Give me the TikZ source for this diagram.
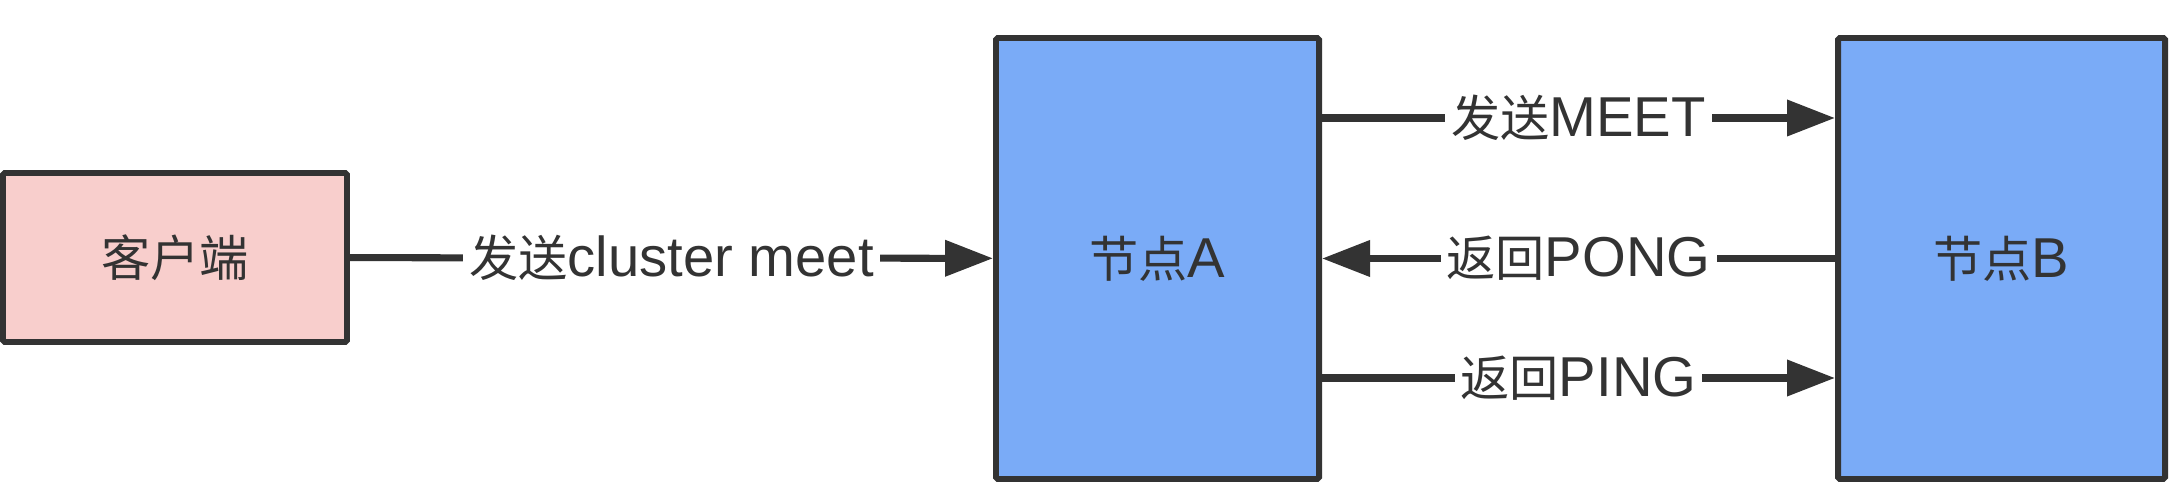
\documentclass[tikz,border=0pt]{standalone}
\usepackage{fontspec}
\setmainfont{Liberation Sans}
\newfontfamily\cjk[Scale=0.875]{Noto Sans CJK SC}
\usetikzlibrary{arrows.meta}
\definecolor{linegray}{HTML}{333333}
\definecolor{clientpink}{HTML}{F8CECC}
\definecolor{nodeblue}{HTML}{7AABF7}
\begin{document}
\begin{tikzpicture}[
    box/.style={draw=linegray, line width=3.4pt, rounded corners=1pt,
      text=linegray, font=\fontsize{32}{36}\selectfont},
    msg/.style={draw=linegray, line width=4pt,
      -{Triangle[length=0.96cm,width=0.7cm]}},
    msglabel/.style={fill=white, text=linegray, inner xsep=0.12cm,
      inner ysep=0.1cm, font=\fontsize{32}{36}\selectfont}]
  \useasboundingbox (0,0) rectangle (43.44,9.96);
  \node[box, fill=clientpink, minimum width=6.88cm, minimum height=3.38cm]
    (client) at (3.5,4.81) {{\cjk 客户端}};
  \node[box, fill=nodeblue, minimum width=6.46cm, minimum height=8.82cm]
    (nodeA) at (23.15,4.79) {{\cjk 节点}A};
  \node[box, fill=nodeblue, minimum width=6.54cm, minimum height=8.82cm]
    (nodeB) at (40.03,4.79) {{\cjk 节点}B};
  \draw[msg] (client) -- node[msglabel] {{\cjk 发送}cluster meet} (nodeA);
  \draw[msg] ([yshift=2.81cm]nodeA.east) -- node[msglabel] {{\cjk 发送}MEET}
    ([yshift=2.81cm]nodeB.west);
  \draw[msg] (nodeB) -- node[msglabel] {{\cjk 返回}PONG} (nodeA);
  \draw[msg] ([yshift=-2.39cm]nodeA.east) -- node[msglabel] {{\cjk 返回}PING}
    ([yshift=-2.39cm]nodeB.west);
\end{tikzpicture}
\end{document}
